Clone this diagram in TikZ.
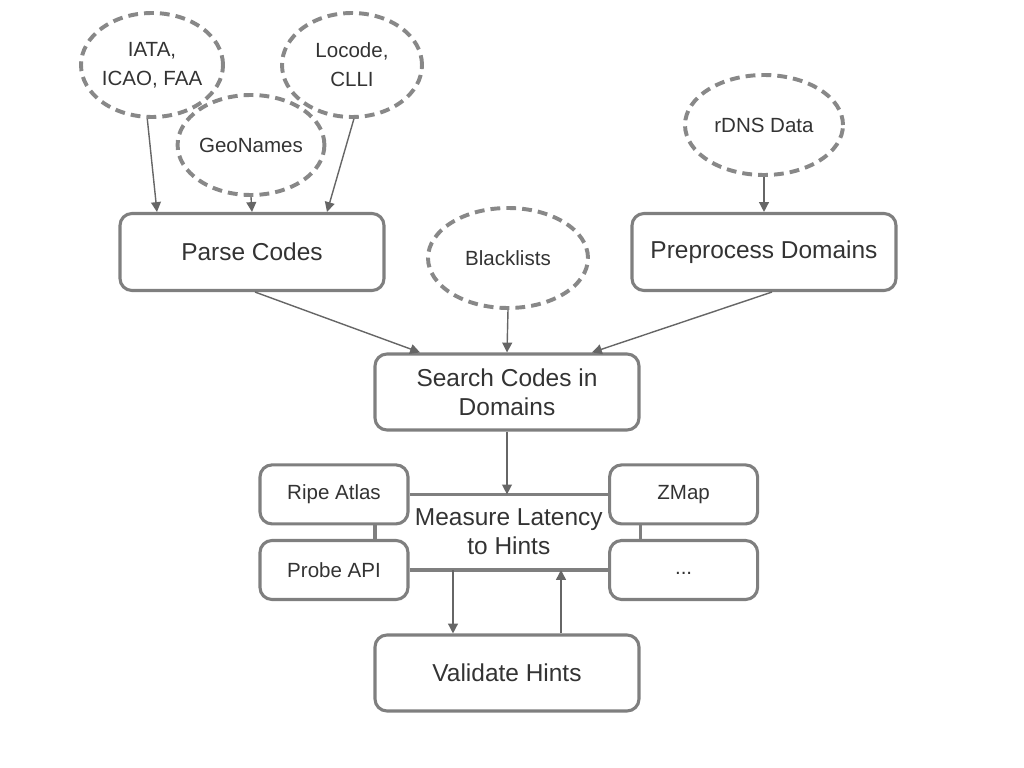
\documentclass[tikz,border=0pt]{standalone}
\usepackage{fontspec}
\setmainfont{Liberation Sans}
\usetikzlibrary{shapes.geometric,arrows.meta}
\definecolor{boxgray}{HTML}{7F7F7F}
\definecolor{dashgray}{HTML}{888888}
\definecolor{linegray}{HTML}{666666}
\definecolor{txtgray}{HTML}{333333}
\begin{document}
\begin{tikzpicture}[line width=1pt, >={Triangle[length=7pt,width=7pt]},
    box/.style={draw=boxgray, line width=2.2pt, rounded corners=0.3cm,
        text=txtgray, align=center, inner sep=0pt,
        font=\fontsize{17.4}{20.5}\selectfont},
    src/.style={ellipse, draw=dashgray, line width=2.8pt,
        dash pattern=on 7pt off 4.3pt, text=txtgray, align=center,
        inner sep=0pt, font=\fontsize{14.6}{20.6}\selectfont},
    tool/.style={box, minimum width=3.7cm, minimum height=1.475cm,
        font=\fontsize{14.6}{18}\selectfont},
    link/.style={draw=linegray, line width=1pt, ->}]
    \useasboundingbox (0,0) rectangle (25.6,-19.2);
    % data sources
    \node[src, minimum width=3.55cm, minimum height=2.6cm]
    (iata) at (3.8,-1.625) {IATA,\\ICAO, FAA};
    \node[src, minimum width=3.5cm, minimum height=2.6cm]
    (locode) at (8.8,-1.625) {Locode,\\CLLI};
    \node[src, minimum width=3.5cm, minimum height=2.5cm]
    (geo) at (6.275,-3.625) {GeoNames};
    \node[src, minimum width=3.95cm, minimum height=2.5cm]
    (rdns) at (19.1,-3.125) {rDNS Data};
    \node[src, minimum width=4.0cm, minimum height=2.5cm]
    (black) at (12.7,-6.45) {Blacklists};
    % processing steps
    \node[box, minimum width=6.6cm, minimum height=1.925cm]
    (parse) at (6.3,-6.3) {Parse Codes};
    \node[box, minimum width=6.6cm, minimum height=1.925cm]
    (prep) at (19.1,-6.3) {Preprocess Domains};
    \node[box, minimum width=6.6cm, minimum height=1.9cm]
    (search) at (12.675,-9.8) {Search Codes in\\Domains};
    \node[box, minimum width=6.6cm, minimum height=1.9cm]
    (valid) at (12.675,-16.825) {Validate Hints};
    % measurement platforms
    \node[tool] (ripe) at (8.35,-12.36) {Ripe Atlas};
    \node[tool] (probe) at (8.35,-14.25) {Probe API};
    \node[tool] (zmap) at (17.09,-12.36) {ZMap};
    \node[tool, text height=1.2ex, text depth=0pt] (more) at (17.09,-14.25) {...};
    \node[text=txtgray, align=center, font=\fontsize{17.4}{20.5}\selectfont]
    (measure) at (12.72,-13.3) {Measure Latency\\to Hints};
    \draw[boxgray, line width=2.2pt] (ripe.east) -- (zmap.west);
    \draw[boxgray, line width=2.2pt] (probe.east) -- (more.west);
    \draw[boxgray, line width=2.2pt]
    ([xshift=1.025cm]ripe.south) -- ([xshift=1.025cm]probe.north);
    \draw[boxgray, line width=2.2pt]
    ([xshift=-1.075cm]zmap.south) -- ([xshift=-1.075cm]more.north);
    % arrows
    \draw[link] (iata.-95) -- ([xshift=-2.375cm]parse.north);
    \draw[link] (geo.south) -- (parse.north);
    \draw[link] (locode.-88) -- ([xshift=1.875cm]parse.north);
    \draw[link] (rdns.south) -- (prep.north);
    \draw[link] ([xshift=0.075cm]parse.south) -- ([xshift=-2.175cm]search.north);
    \draw[link] (black.south) -- (search.north);
    \draw[link] ([xshift=0.2cm]prep.south) -- ([xshift=2.125cm]search.north);
    \draw[link] (search.south) -- (search.south |- ripe.east);
    \coordinate (down) at ([xshift=-1.35cm]valid.north);
    \coordinate (up) at ([xshift=1.35cm]valid.north);
    \draw[link] (down |- probe.east) -- (down);
    \draw[link] (up) -- (up |- probe.east);
\end{tikzpicture}
\end{document}
